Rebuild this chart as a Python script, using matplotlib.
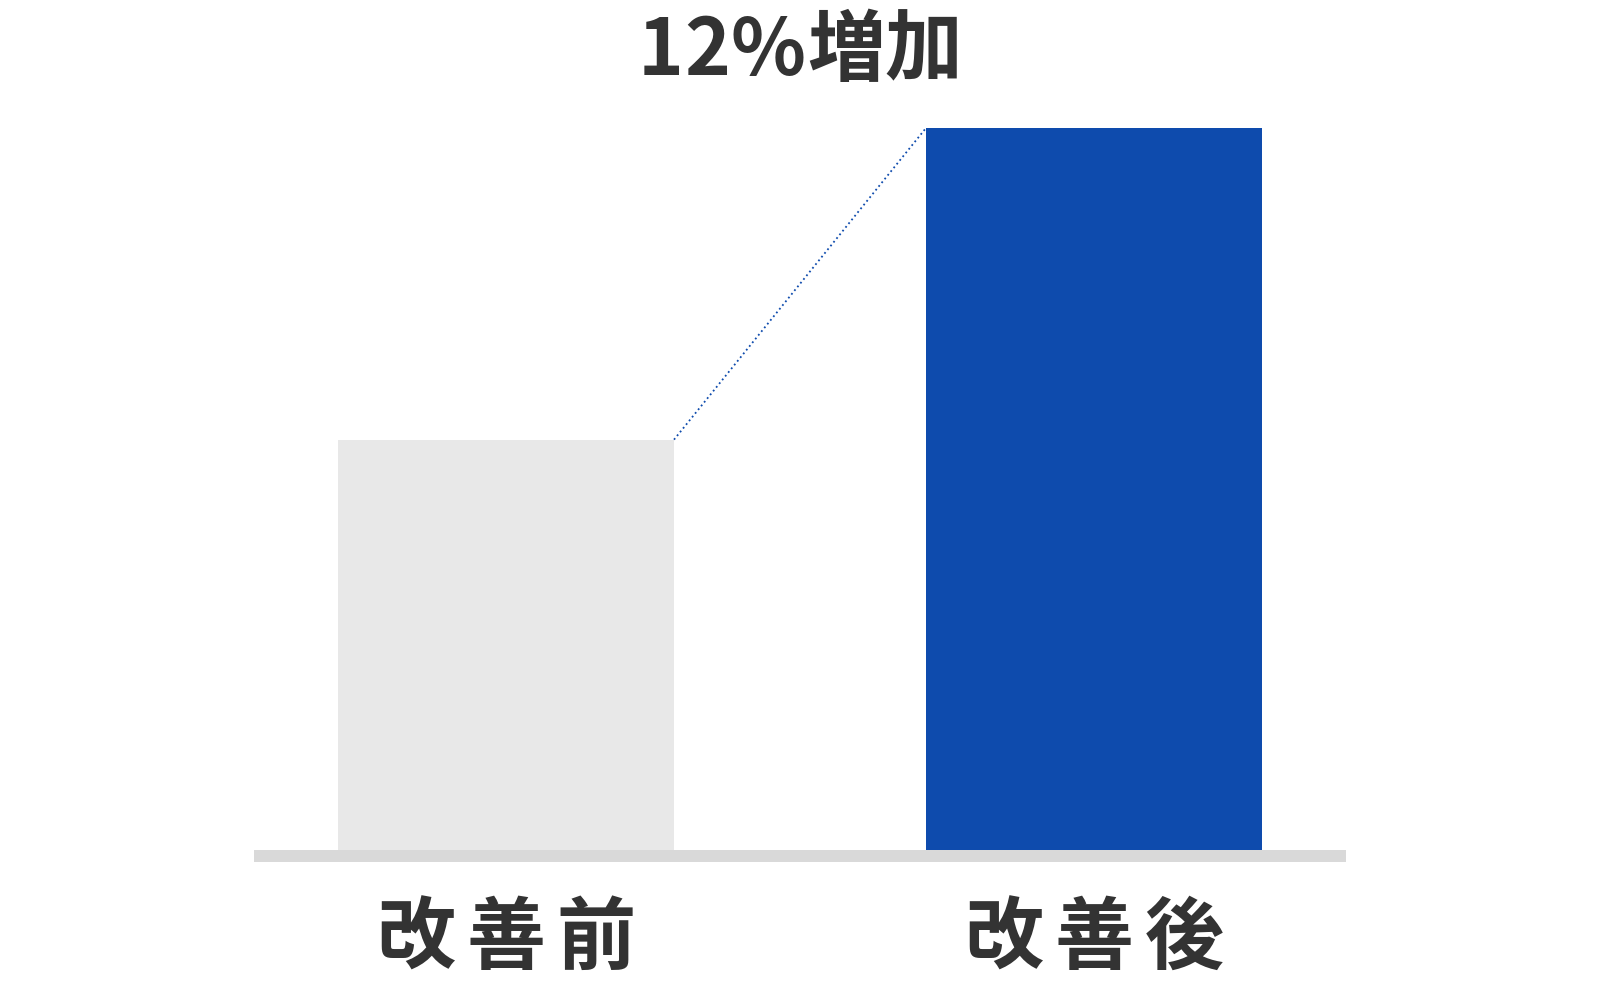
import matplotlib
matplotlib.use('Agg')
import matplotlib.pyplot as plt
from matplotlib.transforms import offset_copy

plt.rcParams['font.family'] = ['Noto Sans CJK JP', 'DejaVu Sans']

# data
labels = ['改善前', '改善後']
values = [100, 112]
y_floor = 84.2   # axis does not start at zero
title = '12%増加'

bar_colors = ['#E8E8E8', '#0E4BAD']
text_color = '#333333'

W, H = 1600, 988
fig = plt.figure(figsize=(W / 100, H / 100), dpi=100)
ax = fig.add_axes([254 / W, (H - 850) / H, (1346 - 254) / W, (850 - 128) / H])

width = 0.5714
x = list(range(len(values)))
ax.bar(x, values, width=width, color=bar_colors, zorder=2)
ax.set_xlim(-0.4286, 1.4286)
ax.set_ylim(y_floor, max(values))
ax.axis('off')

# dotted connector between bar tops
ax.plot([x[0] + width / 2, x[1] - width / 2], [values[0], values[1]],
        linestyle=':', color='#0E4BAD', linewidth=1.3, zorder=3, clip_on=False)

# baseline below bars
tr = offset_copy(ax.transData, fig=fig, y=-6, units='dots')
ax.plot([-0.4286, 1.4286], [y_floor, y_floor], color='#D9D9D9', linewidth=8.64,
        solid_capstyle='butt', transform=tr, clip_on=False, zorder=1)

renderer = fig.canvas.get_renderer()


def spaced_text(s, cx, cy, size, gaps):
    # draw text char by char with extra letter spacing, centred on (cx, cy) in pixels
    arts = [fig.text(0, 0, ch, fontsize=size, fontweight='bold', color=text_color,
                     ha='left', va='center') for ch in s]
    widths = [a.get_window_extent(renderer).width for a in arts]
    total = sum(widths) + sum(gaps)
    px = cx - total / 2
    for a, w, g in zip(arts, widths, list(gaps) + [0]):
        a.set_position((px / W, 1 - cy / H))
        px += w + g


for i, lab in enumerate(labels):
    cx = ax.transData.transform((x[i], y_floor))[0]
    spaced_text(lab, cx, 939, 57, [11, 11])

spaced_text(title, W / 2, 52, 56, [1, 0, 2, 0])

fig.savefig('out.png', dpi=100)
